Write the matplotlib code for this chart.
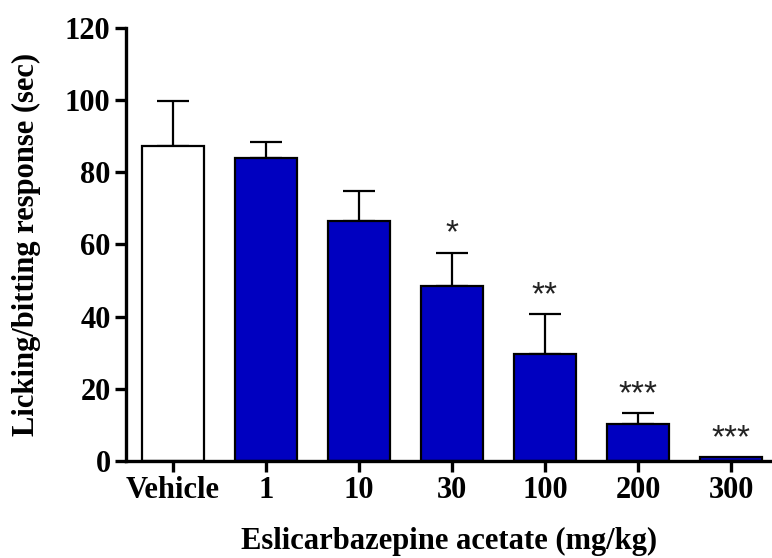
import matplotlib
matplotlib.use("Agg")
import matplotlib.pyplot as plt

categories = ["Vehicle", "1", "10", "30", "100", "200", "300"]
means = [87.4, 83.9, 66.5, 48.5, 29.5, 10.2, 1.0]
sems = [12.3, 4.4, 8.3, 9.2, 11.2, 3.0, 0.0]
signif = ["", "", "", "*", "**", "***", "***"]
fill_colors = ["white", "#0000C0", "#0000C0", "#0000C0", "#0000C0", "#0000C0", "#0000C0"]

serif_bold = {"family": "Liberation Serif", "weight": "bold"}
fs = 22

fig = plt.figure(figsize=(7.72, 5.58), dpi=100)
ax = fig.add_axes([0.163, 0.174, 0.837, 0.776])

x = list(range(len(categories)))
ax.bar(x, means, width=0.667, color=fill_colors, edgecolor="black", linewidth=1.6, zorder=2)
for xi, m, s in zip(x, means, sems):
    if s > 0:
        ax.errorbar(xi, m, yerr=[[0], [s]], fmt="none", ecolor="black",
                    elinewidth=1.6, capsize=11.5, capthick=1.6, zorder=1)

for xi, m, s, lab in zip(x, means, sems, signif):
    if lab:
        ax.text(xi, m + s + 5.2, lab, ha="center", va="center",
                fontsize=24, family="Liberation Sans", color="#222222")

ax.set_xlim(-0.505, 6.44)
ax.set_ylim(0, 120)
ax.set_yticks([0, 20, 40, 60, 80, 100, 120])
ax.set_xticks(x)
ax.set_xticklabels(categories, fontdict=serif_bold, fontsize=fs)
ax.set_yticklabels([str(v) for v in [0, 20, 40, 60, 80, 100, 120]], fontdict=serif_bold, fontsize=fs)

for side in ["top", "right"]:
    ax.spines[side].set_visible(False)
for side in ["left", "bottom"]:
    ax.spines[side].set_linewidth(2.4)
ax.tick_params(axis="both", width=2.4, length=8, direction="out", pad=3)
ax.spines["left"].set_clip_on(False)
ax.spines["bottom"].set_clip_on(False)

ax.set_ylabel("Licking/bitting response (sec)", fontdict=serif_bold, fontsize=fs, labelpad=17)
ax.set_xlabel("Eslicarbazepine acetate (mg/kg)", fontdict=serif_bold, fontsize=fs, labelpad=16)

fig.savefig("out.png", dpi=100)
